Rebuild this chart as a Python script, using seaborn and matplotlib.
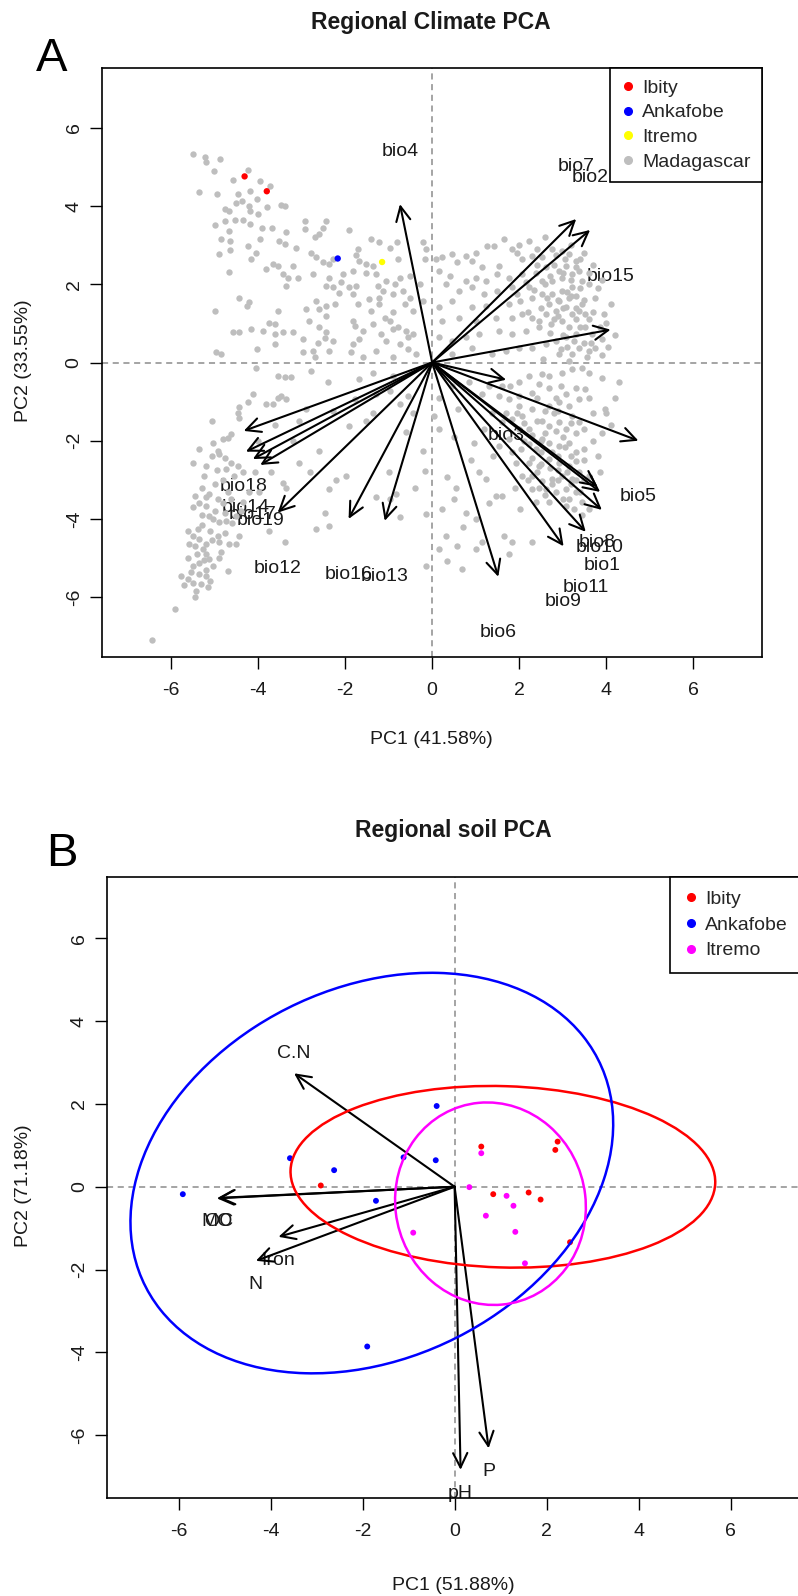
import matplotlib
matplotlib.use("Agg")
import matplotlib.pyplot as plt
from matplotlib.patches import Ellipse
from matplotlib.lines import Line2D
import pandas as pd
import seaborn as sns

# ================= Panel A: regional climate PCA =================
# Background Madagascar sites (PC1, PC2)
madagascar_pts = [
    # upper-left
    (-5.50, 5.33), (-5.21, 5.26), (-5.19, 5.12), (-4.87, 5.20), (-5.02, 4.90), (-4.24, 4.92),
    (-4.58, 4.66), (-3.95, 4.63), (-3.72, 4.52), (-5.35, 4.35), (-4.95, 4.31), (-4.46, 4.31),
    (-4.18, 4.39), (-4.02, 4.18), (-4.50, 4.09), (-4.37, 4.14), (-4.21, 4.01), (-4.18, 3.88),
    (-3.80, 3.97), (-3.47, 4.03), (-3.39, 4.01), (-4.77, 3.92), (-4.66, 3.88), (-4.01, 3.81),
    (-5.00, 3.52), (-4.76, 3.61), (-4.54, 3.64), (-4.35, 3.64), (-4.18, 3.54), (-3.91, 3.45),
    (-3.68, 3.45), (-4.66, 3.37), (-3.36, 3.33), (-2.92, 3.61), (-2.44, 3.61), (-2.93, 3.41),
    (-2.70, 3.22), (-2.51, 3.44), (-2.59, 3.28), (-1.90, 3.39), (-4.85, 3.16), (-4.64, 3.11),
    (-3.95, 3.16), (-3.51, 3.11), (-3.39, 3.03), (-4.24, 2.99), (-4.64, 2.87), (-4.89, 2.77),
    (-4.04, 2.81), (-3.13, 2.94), (-2.78, 2.79), (-2.67, 2.69), (-2.51, 2.56), (-2.36, 2.52),
    (-2.28, 2.64), (-1.71, 2.90), (-1.75, 2.75), (-1.40, 3.16), (-1.21, 3.07), (-0.98, 2.94),
    (-0.81, 3.07), (-1.67, 2.60), (-1.52, 2.52), (-1.36, 2.47), (-0.79, 2.64), (-4.16, 2.64),
    (-3.66, 2.52), (-3.55, 2.47), (-3.20, 2.47), (-3.82, 2.39), (-4.66, 2.32), (-3.43, 2.26),
    (-3.32, 2.17), (-3.09, 2.17), (-2.74, 2.26), (-2.36, 2.17), (-2.05, 2.26), (-2.09, 2.05),
    (-1.82, 2.34), (-1.52, 2.30), (-1.29, 2.26), (-1.06, 2.09), (-0.86, 2.00), (-0.75, 2.17),
    (-0.52, 2.22), (-3.36, 1.96), (-2.44, 1.96), (-2.28, 1.92), (-1.90, 1.92), (-1.75, 1.96),
    (-1.25, 1.96), (-1.13, 1.83), (-2.13, 1.79), (-1.82, 1.75), (-1.44, 1.62), (-1.21, 1.66),
    (-0.90, 1.75), (-0.67, 1.83), (-0.52, 1.66), (-4.43, 1.66), (-4.20, 1.54), (-4.26, 1.45),
    (-4.98, 1.32), (-3.55, 1.32), (-2.90, 1.37), (-2.67, 1.58), (-2.59, 1.37), (-2.44, 1.45),
    (-2.24, 1.49), (-1.71, 1.49), (-1.40, 1.32), (-1.21, 1.49), (-1.09, 1.15), (-0.90, 1.28),
    (-0.63, 1.49), (-0.44, 1.32), (-3.74, 1.02), (-3.62, 0.98), (-2.82, 1.07), (-2.44, 1.19),
    (-1.82, 1.07), (-1.78, 0.94), (-1.59, 0.81), (-1.36, 0.98), (-0.98, 1.07), (-0.90, 0.85),
    (-0.79, 0.90), (-0.60, 0.81), (-0.44, 0.73), (-4.58, 0.77), (-4.44, 0.77), (-4.16, 0.85),
    (-3.88, 0.81), (-3.62, 0.74), (-3.43, 0.77), (-3.20, 0.77), (-2.59, 0.90), (-2.44, 0.77),
    (-2.47, 0.62), (-3.62, 0.47), (-2.97, 0.60), (-2.63, 0.49), (-2.28, 0.56), (-1.82, 0.47),
    (-1.67, 0.60), (-1.17, 0.73), (-1.06, 0.56), (-0.75, 0.47), (-0.56, 0.64), (-4.96, 0.26),
    (-4.85, 0.23), (-4.03, 0.34), (-2.96, 0.26), (-2.74, 0.30), (-2.70, 0.13), (-2.36, 0.30),
    (-1.86, 0.28), (-1.58, 0.13), (-1.29, 0.30), (-0.90, 0.13), (-0.56, 0.34), (-0.37, 0.23),
    (-0.21, 3.07), (-0.14, 2.90), (-0.17, 2.64), (-0.29, 2.00), (-0.21, 1.58),
    # upper-right
    (1.65, 3.15), (1.26, 2.98), (1.42, 2.98), (1.84, 2.90), (2.22, 3.11), (1.00, 2.81),
    (0.77, 2.73), (0.46, 2.77), (0.23, 2.69), (0.08, 2.64), (0.57, 2.56), (0.92, 2.60),
    (1.15, 2.43), (1.53, 2.47), (1.95, 2.81), (2.07, 2.64), (2.30, 2.73), (2.53, 2.69),
    (2.76, 2.90), (2.99, 2.86), (3.14, 2.77), (3.30, 2.60), (3.07, 2.47), (2.91, 2.34),
    (2.61, 2.43), (2.38, 2.30), (2.07, 2.26), (1.76, 2.17), (1.49, 2.26), (1.23, 2.09),
    (1.00, 2.17), (0.77, 2.09), (0.42, 2.22), (0.15, 2.34), (0.31, 2.00), (0.61, 1.83),
    (0.92, 1.92), (1.19, 1.75), (1.49, 1.83), (1.84, 1.92), (2.22, 1.92), (2.53, 2.09),
    (2.76, 2.09), (2.99, 2.17), (3.22, 2.26), (3.37, 2.34), (3.45, 2.09), (3.22, 1.92),
    (2.99, 1.83), (2.76, 1.75), (2.53, 1.75), (2.30, 1.66), (2.03, 1.58), (1.76, 1.49),
    (1.23, 1.45), (0.92, 1.41), (0.15, 1.41), (0.46, 1.58), (2.68, 1.49), (2.91, 1.58),
    (3.14, 1.66), (3.30, 1.71), (3.07, 1.41), (2.84, 1.32), (2.61, 1.24), (2.30, 1.15),
    (2.07, 1.24), (1.84, 1.15), (1.46, 1.15), (1.00, 1.07), (0.61, 1.15), (0.23, 1.07),
    (3.22, 1.24), (3.37, 1.32), (3.52, 1.24), (2.99, 1.07), (2.72, 0.98), (2.45, 0.90),
    (2.15, 0.81), (1.84, 0.72), (1.53, 0.81), (1.07, 0.72), (0.77, 0.64), (0.46, 0.55),
    (0.15, 0.64), (3.30, 0.72), (3.14, 0.90), (3.52, 0.90), (3.68, 0.72), (3.07, 0.64),
    (2.84, 0.55), (2.61, 0.47), (2.30, 0.38), (1.99, 0.38), (1.69, 0.30), (1.38, 0.21),
    (3.37, 0.38), (3.60, 0.30), (3.22, 0.21), (2.91, 0.21), (0.92, 0.38), (0.46, 0.21),
    (3.75, 0.38), (2.80, 2.50), (3.00, 2.30), (3.20, 2.10), (3.10, 1.80), (2.90, 1.60),
    (3.30, 1.40), (3.50, 1.60), (3.60, 1.10), (3.40, 0.90), (3.10, 0.40), (3.50, 0.50),
    (3.90, 0.60), (4.00, 1.00), (3.80, 1.90), (3.70, 2.50), (3.20, 3.00), (2.60, 3.20),
    (2.00, 3.00), (2.40, 2.90), (3.50, 2.80), (2.70, 2.20), (2.90, 1.20), (3.30, 1.10),
    (3.00, 0.70), (2.50, 1.40), (2.20, 1.30), (3.60, 2.00), (4.10, 1.50), (3.90, 0.20),
    (4.20, 0.70), (2.40, 2.50), (2.60, 2.00), (2.80, 1.10), (3.00, 1.40), (3.20, 1.70),
    (3.40, 1.90), (3.60, 2.30), (3.30, 2.45), (3.05, 2.65), (2.85, 2.75), (3.45, 1.50),
    (3.75, 1.65), (3.70, 1.30), (3.85, 0.90), (3.65, 0.50), (3.25, 0.55), (2.95, 0.35),
    (2.70, 0.75), (2.45, 1.05), (2.65, 1.65), (2.35, 1.85), (2.15, 2.05), (1.95, 1.75),
    (3.95, 1.25), (3.55, 0.15), (3.15, 0.05), (2.55, 0.10), (4.05, 0.40), (3.90, 2.10),
    (3.40, 2.65),
    # lower-left
    (-4.04, -0.13), (-3.55, -0.34), (-3.39, -0.36), (-3.24, -0.38), (-2.78, -0.21), (-1.67, -0.43),
    (-1.36, -0.26), (-0.90, -0.34), (-4.12, -0.81), (-3.82, -1.07), (-3.66, -1.07), (-3.55, -0.90),
    (-3.47, -0.85), (-3.37, -0.94), (-4.24, -1.02), (-4.43, -1.15), (-4.47, -1.28), (-4.43, -1.41),
    (-5.06, -1.49), (-4.62, -1.83), (-4.81, -1.96), (-4.70, -1.92), (-5.04, -2.05), (-4.93, -2.26),
    (-5.35, -2.22), (-4.89, -2.34), (-4.62, -2.56), (-5.50, -2.56), (-5.19, -2.64), (-4.74, -2.73),
    (-4.47, -2.64), (-4.35, -2.81), (-4.08, -2.81), (-3.70, -2.81), (-3.43, -3.07), (-2.59, -2.26),
    (-3.05, -2.56), (-3.36, -3.20), (-3.97, -3.32), (-5.44, -3.41), (-5.12, -3.37), (-4.93, -3.50),
    (-5.19, -3.67), (-4.62, -3.50), (-4.35, -3.58), (-5.12, -3.92), (-5.04, -4.01), (-4.89, -4.09),
    (-4.74, -4.05), (-4.50, -3.92), (-5.39, -4.26), (-5.50, -4.43), (-5.35, -4.52), (-5.58, -4.65),
    (-5.19, -4.65), (-5.27, -4.77), (-4.93, -4.43), (-4.66, -4.65), (-4.50, -4.65), (-4.43, -4.43),
    (-5.19, -4.90), (-5.12, -5.03), (-5.35, -5.12), (-5.50, -5.20), (-5.04, -5.20), (-4.70, -5.33),
    (-5.35, -5.41), (-5.19, -5.46), (-5.77, -5.46), (-5.62, -5.54), (-5.50, -5.63), (-5.31, -5.67),
    (-5.16, -5.75), (-5.42, -5.84), (-5.92, -6.31), (-3.74, -4.31), (-3.39, -4.60), (-2.67, -4.26),
    (-2.36, -4.18), (-2.47, -3.84), (-2.36, -3.24), (-1.98, -2.90), (-1.90, -1.62), (-1.52, -1.49),
    (-1.29, -0.81), (-0.98, -0.72), (-0.56, -0.85), (-1.29, -3.45), (-0.98, -3.50), (-0.83, -3.37),
    (-0.75, -3.96), (-0.60, -1.79), (-0.21, -2.26), (-0.17, -2.77), (-0.14, -3.88), (-0.14, -5.20),
    (-1.78, -0.94), (-1.36, -1.28), (-2.40, -0.51), (-2.90, -1.19), (-2.28, -1.24), (-3.05, -1.49),
    (-0.75, -1.07), (-0.44, -1.28), (-5.00, -3.80), (-4.80, -3.60), (-5.30, -3.90), (-5.10, -4.30),
    (-4.90, -4.60), (-5.40, -4.90), (-5.60, -5.00), (-5.20, -5.30), (-4.60, -4.10), (-4.40, -3.80),
    (-4.70, -3.30), (-5.00, -3.10), (-4.80, -3.00), (-5.30, -3.20), (-4.90, -5.00), (-5.70, -5.70),
    (-5.45, -6.00), (-6.43, -7.09), (-5.60, -4.30), (-5.50, -3.70), (-4.20, -3.30), (-4.00, -2.00),
    (-3.60, -1.60), (-3.20, -2.00), (-2.80, -2.80), (-2.20, -3.00), (-1.00, -2.80), (-0.40, -3.20),
    (-5.05, -2.40), (-4.75, -2.45), (-4.55, -2.90), (-5.25, -2.90), (-4.95, -2.75), (-5.20, -3.45),
    (-4.75, -3.85), (-5.30, -4.15), (-5.05, -4.55), (-4.75, -4.35), (-5.45, -4.70), (-5.25, -5.05),
    (-4.85, -4.85), (-5.55, -5.35), (-5.10, -5.60), (-5.35, -3.60),
    # lower-right
    (2.22, -0.34), (2.53, -0.30), (2.68, -0.34), (2.99, -0.26), (3.22, -0.17), (3.45, -0.13),
    (3.60, -0.26), (2.45, -0.55), (2.68, -0.64), (2.95, -0.60), (3.30, -0.64), (3.52, -0.68),
    (3.07, -0.81), (2.84, -0.90), (2.30, -0.77), (1.99, -0.85), (1.76, -0.94), (1.53, -0.85),
    (1.15, -0.81), (0.84, -0.51), (0.46, -0.60), (0.15, -0.90), (0.04, -1.36), (0.15, -1.71),
    (2.68, -1.11), (2.91, -1.02), (3.14, -1.11), (3.37, -0.94), (3.60, -0.90), (3.98, -1.19),
    (2.30, -1.19), (2.07, -1.36), (1.84, -1.45), (1.61, -1.53), (1.38, -1.28), (1.99, -1.71),
    (2.22, -1.71), (2.53, -1.49), (2.68, -1.62), (2.91, -1.53), (3.07, -1.71), (3.22, -1.36),
    (3.37, -1.53), (1.76, -1.96), (1.53, -2.13), (1.84, -2.30), (2.22, -2.09), (2.38, -2.22),
    (2.53, -1.96), (2.68, -2.05), (2.91, -2.13), (3.14, -2.05), (1.92, -2.56), (2.22, -2.56),
    (2.45, -2.64), (2.68, -2.47), (2.91, -2.56), (3.14, -2.64), (3.30, -2.51), (2.07, -2.90),
    (2.30, -2.90), (2.53, -3.03), (2.76, -2.98), (2.99, -2.90), (3.22, -2.98), (3.37, -2.81),
    (2.30, -3.24), (2.61, -3.24), (2.84, -3.32), (3.07, -3.24), (3.30, -3.32), (3.45, -3.58),
    (3.60, -3.75), (3.07, -3.67), (2.68, -3.58), (2.38, -3.58), (0.96, -2.05), (1.07, -2.81),
    (1.23, -2.98), (0.34, -2.94), (0.54, -3.20), (0.50, -3.50), (0.23, -3.75), (0.77, -3.84),
    (1.00, -4.01), (1.46, -3.41), (1.61, -3.41), (1.65, -4.43), (1.76, -4.90), (1.84, -4.60),
    (1.15, -4.60), (1.00, -4.77), (0.57, -4.69), (0.34, -5.07), (0.69, -5.29), (0.15, -4.77),
    (0.31, -4.43), (2.30, -4.60), (2.03, -3.75), (2.50, -2.30), (2.70, -2.70), (2.90, -2.40),
    (3.10, -2.80), (2.60, -1.80), (2.40, -1.50), (2.00, -1.10), (1.80, -0.60), (2.90, -3.00),
    (3.20, -3.10), (3.40, -3.30), (3.50, -2.20), (3.60, -2.90), (2.10, -2.00), (1.70, -1.30),
    (3.80, -2.40), (4.10, -1.60), (4.20, -0.90), (3.90, -0.40), (4.30, -0.50), (2.80, -1.30),
    (3.00, -1.90), (3.30, -2.30), (2.40, -2.80), (2.20, -3.00), (2.60, -3.40), (1.90, -3.20),
    (1.40, -2.40), (1.20, -1.70), (0.60, -1.20), (0.90, -2.50), (0.50, -1.90), (1.30, -3.60),
    (0.70, -4.20), (1.30, -0.60), (1.60, -0.60), (2.00, -0.50), (2.40, -0.90), (2.60, -1.25),
    (2.90, -1.25), (3.20, -1.55), (3.50, -1.70), (3.70, -1.30), (3.30, -1.80), (3.50, -2.50),
    (3.20, -2.40), (2.75, -2.30), (2.50, -2.00), (2.30, -1.85), (2.10, -1.55), (1.95, -1.30),
    (2.85, -1.75), (3.05, -2.15), (2.90, -2.75), (3.15, -3.50), (3.30, -3.00), (3.50, -3.00),
    (2.75, -3.10), (2.50, -2.60), (2.30, -2.45), (2.05, -2.20), (3.70, -2.00), (3.90, -1.80),
    (3.85, -2.80), (2.45, -3.20), (3.00, -3.50), (3.25, -3.75), (3.45, -3.90), (4.00, -1.30),
]
mad_pc1 = [p[0] for p in madagascar_pts]
mad_pc2 = [p[1] for p in madagascar_pts]

site_names = ["Ibity", "Ibity", "Ankafobe", "Itremo"]
site_pc1 = [-4.31, -3.80, -2.17, -1.15]
site_pc2 = [4.76, 4.38, 2.66, 2.57]

bio_names = ["bio1", "bio2", "bio3", "bio4", "bio5", "bio6", "bio7", "bio8", "bio9", "bio10",
             "bio11", "bio12", "bio13", "bio14", "bio15", "bio16", "bio17", "bio18", "bio19"]
bio_pc1 = [3.90, 3.63, 1.70, -0.74, 4.74, 1.52, 3.31, 3.80, 3.02, 3.86,
           3.53, -3.55, -1.09, -4.28, 4.10, -1.92, -4.12, -4.33, -3.95]
bio_pc2 = [-3.77, 3.39, -0.44, 4.05, -2.00, -5.48, 3.67, -3.18, -4.70, -3.31,
           -4.33, -3.84, -4.05, -2.28, 0.84, -4.00, -2.47, -1.75, -2.62]

# ================= Panel B: regional soil PCA =================
soil_site = ["Ibity"] * 8 + ["Ankafobe"] * 8 + ["Itremo"] * 8
soil_pc1 = [0.58, 2.24, 2.19, -2.91, 0.84, 1.61, 1.87, 2.51,
            -0.39, -3.58, -2.62, -1.11, -0.41, -5.91, -1.71, -1.90,
            0.58, 0.32, 1.13, 1.28, 0.68, -0.90, 1.32, 1.53]
soil_pc2 = [0.97, 1.09, 0.89, 0.03, -0.18, -0.14, -0.31, -1.34,
            1.95, 0.69, 0.40, 0.71, 0.64, -0.18, -0.34, -3.86,
            0.81, -0.01, -0.22, -0.46, -0.70, -1.11, -1.09, -1.85]

soil_vars = ["C.N", "MO", "OC", "Iron", "N", "pH", "P"]
soil_var_pc1 = [-3.49, -5.17, -5.14, -3.83, -4.32, 0.13, 0.74]
soil_var_pc2 = [2.74, -0.28, -0.27, -1.21, -1.79, -6.84, -6.32]

# group ellipses (centre, full width/height, rotation in degrees)
ell_site = ["Ibity", "Ankafobe", "Itremo"]
ell_cx = [1.05, -1.80, 0.78]
ell_cy = [0.24, 0.33, -0.41]
ell_w = [9.24, 11.32, 4.14]
ell_h = [4.38, 8.70, 4.90]
ell_angle = [-2.0, 35.8, 6.0]

# ================= styling =================
sns.set_theme(style="white")
plt.rcParams["font.family"] = ["Liberation Sans", "DejaVu Sans"]
plt.rcParams["axes.unicode_minus"] = False

colA = {"Ibity": "#FF0000", "Ankafobe": "#0000FF", "Itremo": "#FFFF00", "Madagascar": "#BEBEBE"}
colB = {"Ibity": "#FF0000", "Ankafobe": "#0000FF", "Itremo": "#FF00FF"}

W, H = 798, 1596
fig = plt.figure(figsize=(W / 100, H / 100), dpi=100)
fig.patch.set_facecolor("white")


def px_axes(left, top, right, bottom):
    return fig.add_axes([left / W, 1 - bottom / H, (right - left) / W, (bottom - top) / H])


axA = px_axes(102.3, 67.7, 762.0, 657.3)
axB = px_axes(107.4, 876.7, 801.8, 1498.0)


def style(ax, xlim, ylim):
    ax.set_facecolor("white")
    ax.set_xlim(*xlim)
    ax.set_ylim(*ylim)
    ax.set_xticks(range(-6, 7, 2))
    ax.set_yticks(range(-6, 7, 2))
    ax.tick_params(axis="both", direction="out", length=8.6, width=1.0, color="black",
                   labelsize=14, labelcolor="#1a1a1a", bottom=True, left=True)
    ax.tick_params(axis="x", pad=9.5)
    ax.tick_params(axis="y", pad=5.5)
    for s in ax.spines.values():
        s.set_color("black")
        s.set_linewidth(1.2)
    plt.setp(ax.get_yticklabels(), rotation=90, va="center")
    ax.axhline(0, color="#8c8c8c", ls=(0, (4, 3)), lw=1.1, zorder=0.5)
    ax.axvline(0, color="#8c8c8c", ls=(0, (4, 3)), lw=1.1, zorder=0.5)


# ---------- Panel A ----------
style(axA, (-7.58, 7.58), (-7.54, 7.54))

for name, x, y in zip(bio_names, bio_pc1, bio_pc2):
    off = 38 if y > 0 else -40
    axA.annotate(name, xy=(x, y), xytext=(0, off), textcoords="offset points",
                 ha="center", va="center", fontsize=14, color="#1a1a1a", zorder=1)

dfA = pd.DataFrame({"PC1": mad_pc1, "PC2": mad_pc2})
sns.scatterplot(data=dfA, x="PC1", y="PC2", color=colA["Madagascar"], s=21,
                linewidth=0, ax=axA, legend=False, zorder=2)
dfS = pd.DataFrame({"PC1": site_pc1, "PC2": site_pc2, "site": site_names})
sns.scatterplot(data=dfS, x="PC1", y="PC2", hue="site", palette=colA, s=21,
                linewidth=0, ax=axA, legend=False, zorder=3)

for x, y in zip(bio_pc1, bio_pc2):
    axA.annotate("", xy=(x, y), xytext=(0, 0),
                 arrowprops=dict(arrowstyle="->,head_length=0.65,head_width=0.32",
                                 color="black", lw=1.5, shrinkA=0, shrinkB=0,
                                 mutation_scale=16),
                 zorder=4)
axA.set_xlabel("")
axA.set_ylabel("")

handlesA = [Line2D([], [], marker="o", ls="", color=colA[k], markersize=5.5, label=k)
            for k in ["Ibity", "Ankafobe", "Itremo", "Madagascar"]]
legA = axA.legend(handles=handlesA, loc="upper right", bbox_to_anchor=(1, 1), borderaxespad=0,
                  frameon=True, fancybox=False, framealpha=1, edgecolor="black", fontsize=14,
                  handlelength=0.7, handletextpad=0.4, labelspacing=0.37, borderpad=0.58)
legA.get_frame().set_linewidth(1.2)
legA.set_zorder(6)

# ---------- Panel B ----------
style(axB, (-7.55, 7.55), (-7.52, 7.49))

for name, x, y in zip(soil_vars, soil_var_pc1, soil_var_pc2):
    off = 14 if y > 0 else -17
    axB.annotate(name, xy=(x, y), xytext=(0, off), textcoords="offset points",
                 ha="center", va="center", fontsize=14, color="#1a1a1a", zorder=1)

for x, y in zip(soil_var_pc1, soil_var_pc2):
    axB.annotate("", xy=(x, y), xytext=(0, 0),
                 arrowprops=dict(arrowstyle="->,head_length=0.65,head_width=0.32",
                                 color="black", lw=1.5, shrinkA=0, shrinkB=0,
                                 mutation_scale=16),
                 zorder=2)

dfB = pd.DataFrame({"PC1": soil_pc1, "PC2": soil_pc2, "site": soil_site})
sns.scatterplot(data=dfB, x="PC1", y="PC2", hue="site", palette=colB, s=18,
                linewidth=0, ax=axB, legend=False, zorder=3)

for g, cx, cy, w, h, a in zip(ell_site, ell_cx, ell_cy, ell_w, ell_h, ell_angle):
    axB.add_patch(Ellipse((cx, cy), w, h, angle=a, fill=False, edgecolor=colB[g],
                          lw=1.8, zorder=4))
axB.set_xlabel("")
axB.set_ylabel("")

handlesB = [Line2D([], [], marker="o", ls="", color=colB[k], markersize=5.5, label=k)
            for k in ["Ibity", "Ankafobe", "Itremo"]]
legB = axB.legend(handles=handlesB, loc="upper right", bbox_to_anchor=(1, 1), borderaxespad=0,
                  frameon=True, fancybox=False, framealpha=1, edgecolor="black", fontsize=14,
                  handlelength=0.7, handletextpad=0.4, labelspacing=0.42, borderpad=0.7)
legB.get_frame().set_linewidth(1.2)
legB.set_zorder(6)

# ---------- titles, panel letters and axis labels ----------
fig.text(430.5 / W, 1 - 29 / H, "Regional Climate PCA", ha="center", va="baseline",
         fontsize=16.5, fontweight="bold", color="#1a1a1a")
fig.text(453 / W, 1 - 837 / H, "Regional soil PCA", ha="center", va="baseline",
         fontsize=16.5, fontweight="bold", color="#1a1a1a")
fig.text(51.6 / W, 1 - 70.7 / H, "A", ha="center", va="baseline", fontsize=34, color="black")
fig.text(62 / W, 1 - 866 / H, "B", ha="center", va="baseline", fontsize=34, color="black")

fig.text(431 / W, 1 - 740 / H, "PC1 (41.58%)", ha="center", va="center", fontsize=14, color="#1a1a1a")
fig.text(23.5 / W, 1 - 361 / H, "PC2 (33.55%)", ha="center", va="center", rotation=90,
         fontsize=14, color="#1a1a1a")
fig.text(453.6 / W, 1 - 1586 / H, "PC1 (51.88%)", ha="center", va="center", fontsize=14, color="#1a1a1a")
fig.text(23.5 / W, 1 - 1186 / H, "PC2 (71.18%)", ha="center", va="center", rotation=90,
         fontsize=14, color="#1a1a1a")

fig.savefig("out.png", dpi=100, facecolor="white")
